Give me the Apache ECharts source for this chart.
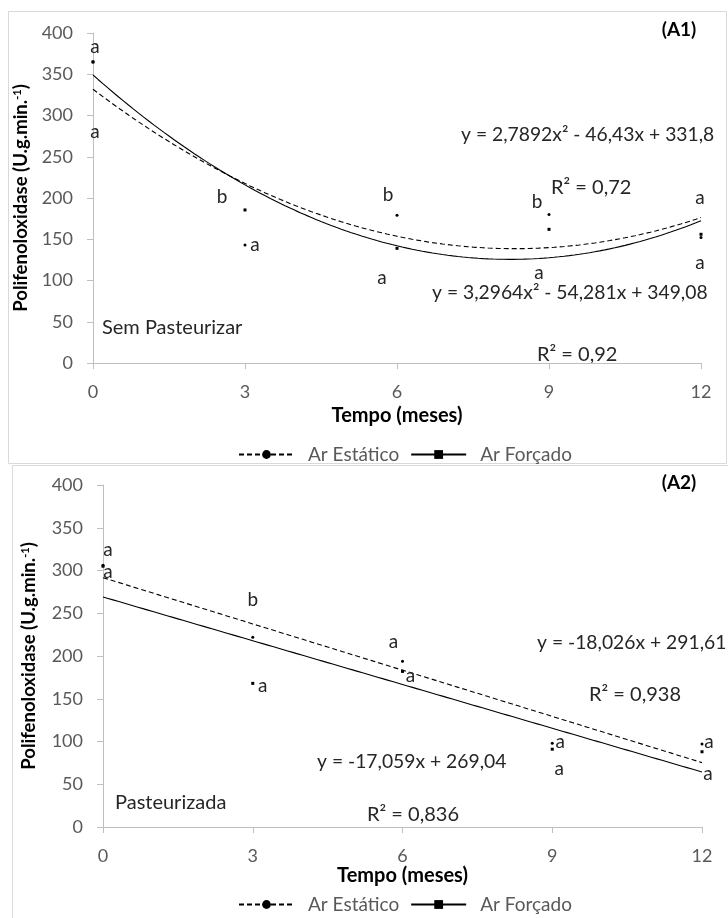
<!DOCTYPE html>
<html>
<head>
<meta charset="utf-8">
<script src="https://cdn.jsdelivr.net/npm/echarts@6/dist/echarts.min.js"></script>
<style>
  html, body { margin: 0; padding: 0; background: #ffffff; }
  #chart { width: 728px; height: 918px; }
</style>
</head>
<body>
<div id="chart"></div>
<script>
// Polifenoloxidase activity over storage time (months), two drying methods
const months = [0, 3, 6, 9, 12];

// (A1) Sem Pasteurizar
const estaticoSemPast = [365, 143, 179, 180, 152];
const forcadoSemPast = [365, 185.5, 139, 162, 156];
const letrasEstaticoSemPast = ['a', 'a', 'b', 'b', 'a'];
const letrasForcadoSemPast = ['a', 'b', 'a', 'a', 'a'];
// trend coefficients [x², x, constant]
const tendEstaticoSemPast = [2.7892, -46.43, 331.8];
const tendForcadoSemPast = [3.2964, -54.281, 349.08];

// (A2) Pasteurizada
const estaticoPast = [306, 222, 194, 98, 97];
const forcadoPast = [305, 168, 182, 91, 88];
const letrasEstaticoPast = ['a', 'b', 'a', 'a', 'a'];
const letrasForcadoPast = ['a', 'a', 'a', 'a', 'a'];
const tendEstaticoPast = [0, -18.026, 291.61];
const tendForcadoPast = [0, -17.059, 269.04];

const nomeEstatico = 'Ar Estático';
const nomeForcado = 'Ar Forçado';

// ---- styling ----
const FONT = 'Lato, "Open Sans", sans-serif';
const TICK_COLOR = '#595959';
const TEXT_COLOR = '#262626';
const AXIS_COLOR = '#bfbfbf';
const SYMBOL_SIZE = 3;

// letter label offsets [dx, dy] in pixels, per point
const offEstaticoSemPast = [[2, 70], [10, 0], [-9, -20], [-12, -13], [-1, -40]];
const offForcadoSemPast = [[2, -15], [-23, -13], [-15, 30], [-10, 44], [-1, 29]];
const offEstaticoPast = [[5, -15], [0, -37], [-9, -19], [8, -1], [7, -2]];
const offForcadoPast = [[5, 6], [10, 3], [8, 4], [7, 20], [6, 22]];

const letterStyle = {
  color: TEXT_COLOR, fontSize: 19, fontFamily: FONT,
  align: 'center', verticalAlign: 'middle',
  position: [SYMBOL_SIZE / 2, SYMBOL_SIZE / 2]
};

function trendPoints(coef) {
  const pts = [];
  for (let i = 0; i <= 120; i++) {
    const x = i / 10;
    pts.push([x, coef[0] * x * x + coef[1] * x + coef[2]]);
  }
  return pts;
}

function pointData(values, letters, offsets) {
  return values.map((v, i) => ({
    value: [months[i], v],
    label: Object.assign({
      show: true,
      formatter: letters[i],
      offset: offsets[i]
    }, letterStyle)
  }));
}

function trendSeries(name, coef, axis, dashed, symbol) {
  return {
    type: 'line',
    name: name,
    xAxisIndex: axis,
    yAxisIndex: axis,
    data: trendPoints(coef),
    showSymbol: false,
    symbol: symbol,
    smooth: false,
    color: '#000000',
    lineStyle: { color: '#000000', width: 1.1, type: dashed ? [5, 3] : 'solid' },
    silent: true,
    z: 2
  };
}

function pointSeries(name, values, letters, offsets, axis, symbol) {
  return {
    type: 'scatter',
    name: name,
    xAxisIndex: axis,
    yAxisIndex: axis,
    symbol: symbol,
    symbolSize: SYMBOL_SIZE,
    color: '#000000',
    itemStyle: { color: '#000000', opacity: 1 },
    label: Object.assign({ show: true }, letterStyle),
    data: pointData(values, letters, offsets),
    z: 3
  };
}

function xAxisCfg(grid, gap) {
  return {
    type: 'value', gridIndex: grid, min: 0, max: 12, interval: 3,
    axisLine: { lineStyle: { color: AXIS_COLOR, width: 1 } },
    axisTick: { show: true, inside: false, length: 6, lineStyle: { color: AXIS_COLOR } },
    axisLabel: { color: TICK_COLOR, fontSize: 18, fontFamily: FONT, margin: 20 },
    splitLine: { show: false },
    name: 'Tempo (meses)',
    nameLocation: 'middle',
    nameGap: gap,
    nameTextStyle: { color: '#000000', fontWeight: 'bold', fontSize: 20, fontFamily: FONT }
  };
}

function yAxisCfg(grid, gap) {
  return {
    type: 'value', gridIndex: grid, min: 0, max: 400, interval: 50,
    axisLine: { show: true, lineStyle: { color: AXIS_COLOR, width: 1 } },
    axisTick: { show: true, inside: false, length: 6, lineStyle: { color: AXIS_COLOR } },
    axisLabel: { color: TICK_COLOR, fontSize: 18, fontFamily: FONT, margin: 20 },
    splitLine: { show: false },
    name: '{b|Polifenoloxidase (U.g.min.}{s|-1}{b|)}',
    nameLocation: 'middle',
    nameRotate: 90,
    nameGap: gap,
    nameTextStyle: {
      rich: {
        b: { color: '#000000', fontWeight: 'bold', fontSize: 18.5, fontFamily: FONT },
        s: { color: '#000000', fontWeight: 'bold', fontSize: 11, fontFamily: FONT, verticalAlign: 'top' }
      }
    }
  };
}

function legendCfg(top) {
  return {
    top: top,
    left: 233,
    data: [nomeEstatico, nomeForcado],
    itemWidth: 55,
    itemHeight: 11,
    itemGap: 11,
    selectedMode: false,
    textStyle: { color: TICK_COLOR, fontSize: 19, fontFamily: FONT, padding: [0, 0, 0, 9] }
  };
}

function label(text, x, y, opts) {
  return {
    type: 'text',
    x: x,
    y: y,
    silent: true,
    style: Object.assign({
      text: text,
      fill: TEXT_COLOR,
      font: '20px ' + FONT,
      verticalAlign: 'middle',
      align: 'left'
    }, opts || {})
  };
}

const EQ_FONT = { font: '19.3px ' + FONT };

const chart = echarts.init(document.getElementById('chart'), null, { renderer: 'canvas' });

chart.setOption({
  backgroundColor: '#ffffff',
  animation: false,
  grid: [
    { left: 93, right: 27, top: 33, height: 330 },
    { left: 103, right: 26, top: 485, height: 342 }
  ],
  xAxis: [xAxisCfg(0, 43), xAxisCfg(1, 36)],
  yAxis: [yAxisCfg(0, 54), yAxisCfg(1, 64)],
  legend: [legendCfg(440), legendCfg(890)],
  series: [
    trendSeries(nomeEstatico, tendEstaticoSemPast, 0, true, 'circle'),
    trendSeries(nomeForcado, tendForcadoSemPast, 0, false, 'rect'),
    trendSeries(nomeEstatico, tendEstaticoPast, 1, true, 'circle'),
    trendSeries(nomeForcado, tendForcadoPast, 1, false, 'rect'),
    pointSeries(nomeEstatico, estaticoSemPast, letrasEstaticoSemPast, offEstaticoSemPast, 0, 'circle'),
    pointSeries(nomeForcado, forcadoSemPast, letrasForcadoSemPast, offForcadoSemPast, 0, 'rect'),
    pointSeries(nomeEstatico, estaticoPast, letrasEstaticoPast, offEstaticoPast, 1, 'circle'),
    pointSeries(nomeForcado, forcadoPast, letrasForcadoPast, offForcadoPast, 1, 'rect')
  ],
  graphic: [
    { type: 'rect', silent: true, shape: { x: 8.5, y: 11.5, width: 718, height: 452 },
      style: { fill: 'none', stroke: '#d9d9d9', lineWidth: 1 } },
    { type: 'rect', silent: true, shape: { x: 12.5, y: 465.5, width: 716, height: 460 },
      style: { fill: 'none', stroke: '#d9d9d9', lineWidth: 1 } },
    label('(A1)', 679, 30, { font: 'bold 19px ' + FONT, fill: '#000000', align: 'center' }),
    label('y = 2,7892x² - 46,43x + 331,8', 461, 135, EQ_FONT),
    label('R² = 0,72', 551, 188),
    label('y = 3,2964x² - 54,281x + 349,08', 432, 293, EQ_FONT),
    label('R² = 0,92', 537, 355),
    label('Sem Pasteurizar', 102, 328),
    label('(A2)', 679, 483, { font: 'bold 19px ' + FONT, fill: '#000000', align: 'center' }),
    label('y = -18,026x + 291,61', 537, 643, EQ_FONT),
    label('R² = 0,938', 589, 695),
    label('y = -17,059x + 269,04', 317, 762, EQ_FONT),
    label('R² = 0,836', 367, 815),
    label('Pasteurizada', 115, 803)
  ]
});
</script>
</body>
</html>
